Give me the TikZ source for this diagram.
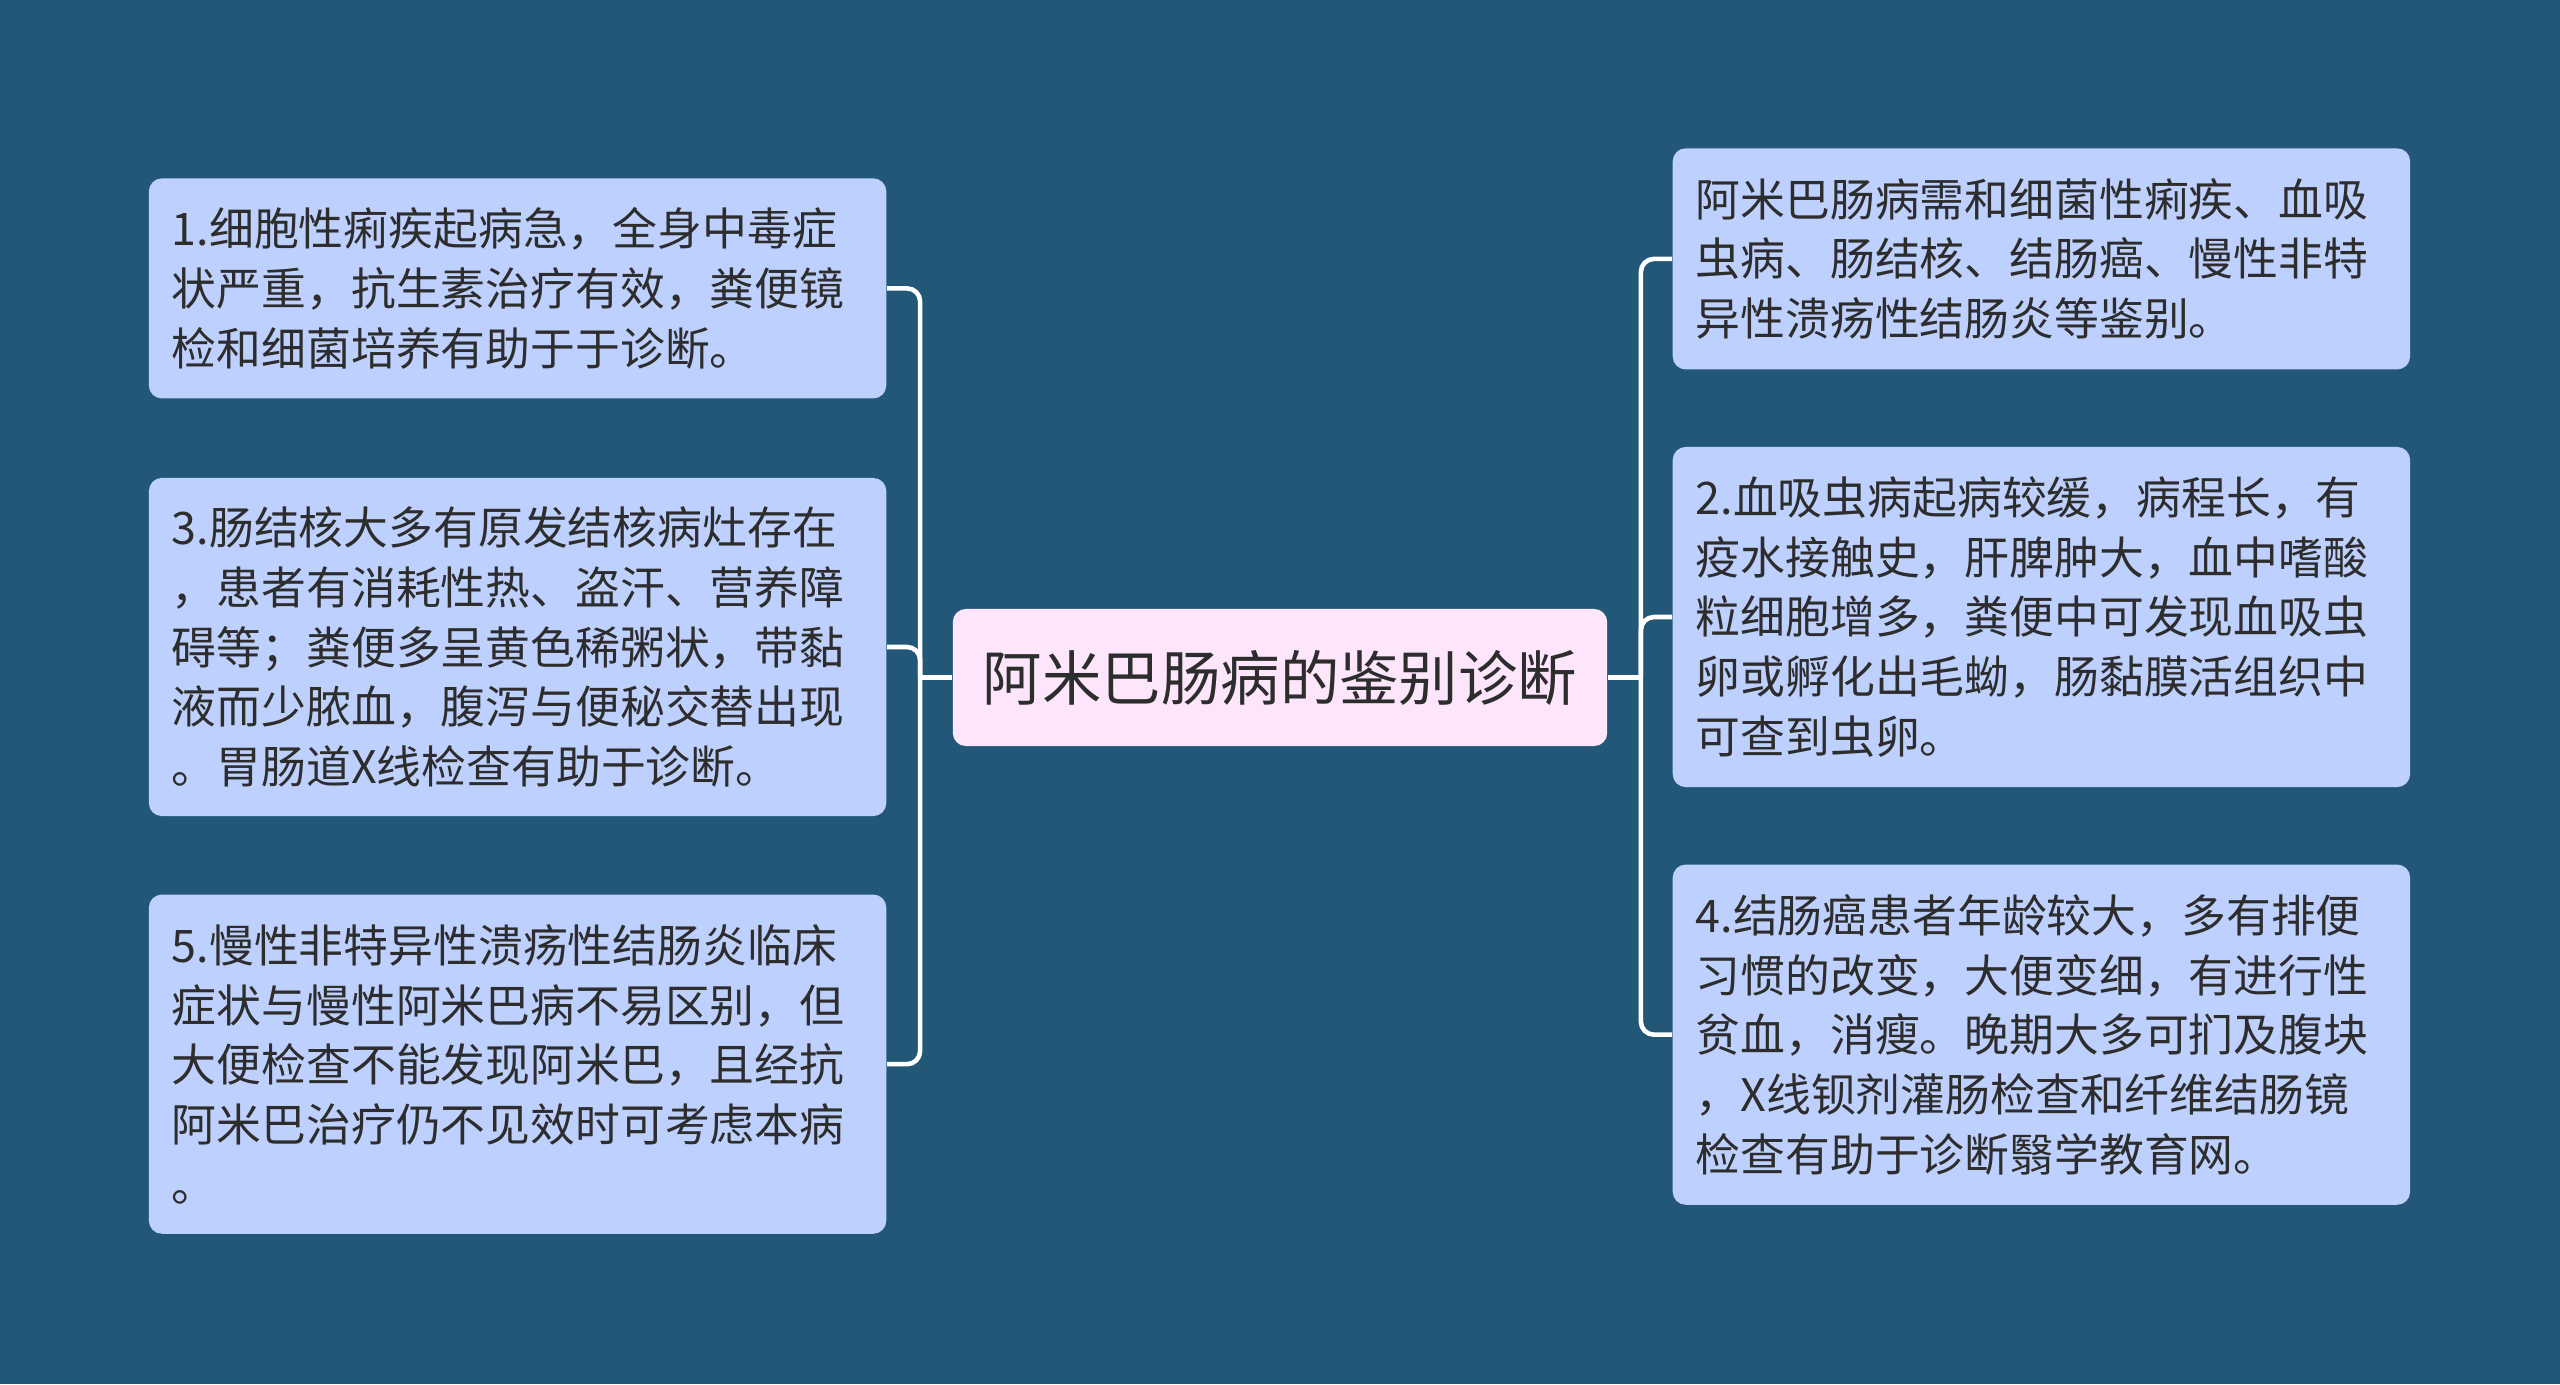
\documentclass[tikz,border=0pt]{standalone}
\usepackage{fontspec}
\setmainfont{Noto Sans CJK SC}
\usetikzlibrary{positioning}
\definecolor{bgblue}{RGB}{35,87,120}
\definecolor{leafblue}{RGB}{190,208,253}
\definecolor{rootpink}{RGB}{253,230,251}
\definecolor{inkgray}{RGB}{45,45,45}
\begin{document}
\begin{tikzpicture}[x=0.01cm,y=-0.01cm,
  leaf/.style={fill=leafblue,rounded corners=0.13cm,text=inkgray,align=left,text width=6.91cm,inner xsep=0.23cm,
    font=\fontsize{12.75pt}{16.96pt}\selectfont},
  root/.style={fill=rootpink,rounded corners=0.13cm,text=inkgray,minimum width=6.54cm,minimum height=1.37cm,
    font=\fontsize{16.9pt}{20pt}\selectfont},
  conn/.style={draw=white,line width=1.3pt,rounded corners=0.13cm}]
  \fill[bgblue](0,0)rectangle(2560,1384); \useasboundingbox(0,0)rectangle(2560,1384);
  \node[root](c) at (1280,677.5){阿米巴肠病的鉴别诊断};
  \node[leaf,minimum height=3.38cm,anchor=east](n3) at (887,647){3.肠结核大多有原发结核病灶存在\\，患者有消耗性热、盗汗、营养障\\碍等；粪便多呈黄色稀粥状，带黏\\液而少脓血，腹泻与便秘交替出现\\。胃肠道X线检查有助于诊断。};
  \node[leaf,minimum height=2.2cm,above=0.78cm of n3](n1){1.细胞性痢疾起病急，全身中毒症\\状严重，抗生素治疗有效，粪便镜\\检和细菌培养有助于于诊断。};
  \node[leaf,minimum height=3.39cm,below=0.77cm of n3](n5){5.慢性非特异性溃疡性结肠炎临床\\症状与慢性阿米巴病不易区别，但\\大便检查不能发现阿米巴，且经抗\\阿米巴治疗仍不见效时可考虑本病\\。};
  \node[leaf,minimum height=3.4cm,anchor=west](n2) at (1672,617){2.血吸虫病起病较缓，病程长，有\\疫水接触史，肝脾肿大，血中嗜酸\\粒细胞增多，粪便中可发现血吸虫\\卵或孵化出毛蚴，肠黏膜活组织中\\可查到虫卵。};
  \node[leaf,minimum height=2.21cm,above=0.76cm of n2](nA){阿米巴肠病需和细菌性痢疾、血吸\\虫病、肠结核、结肠癌、慢性非特\\异性溃疡性结肠炎等鉴别。};
  \node[leaf,minimum height=3.4cm,below=0.76cm of n2](n4){4.结肠癌患者年龄较大，多有排便\\习惯的改变，大便变细，有进行性\\贫血，消瘦。晚期大多可扪及腹块\\，X线钡剂灌肠检查和纤维结肠镜\\检查有助于诊断翳学教育网。};
  \draw[conn](c.west)--++(-32,0)coordinate(lt); \draw[conn](c.east)--++(33,0)coordinate(rt);
  \draw[conn](lt)|-(n1.east); \draw[conn](lt)|-(n3.east); \draw[conn](lt)|-(n5.east);
  \draw[conn](rt)|-(nA.west); \draw[conn](rt)|-(n2.west); \draw[conn](rt)|-(n4.west);
\end{tikzpicture}
\end{document}
